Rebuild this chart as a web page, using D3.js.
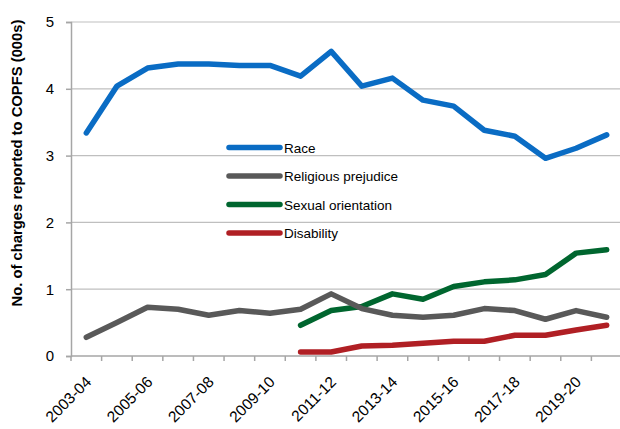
<!DOCTYPE html>
<html>
<head>
<meta charset="utf-8">
<script src="https://cdn.jsdelivr.net/npm/d3@7"></script>
<style>
  body { margin: 0; background: #fff; }
  text { font-family: "Liberation Sans", Arial, sans-serif; fill: #000; }
</style>
</head>
<body>
<div id="chart"></div>
<script>
// financial years on the x axis
var years = ["2003-04", "2004-05", "2005-06", "2006-07", "2007-08", "2008-09",
  "2009-10", "2010-11", "2011-12", "2012-13", "2013-14", "2014-15", "2015-16",
  "2016-17", "2017-18", "2018-19", "2019-20", "2020-21"];

// charges in thousands, null where not recorded
var race = [3.34, 4.04, 4.31, 4.37, 4.37, 4.35, 4.35, 4.19, 4.56, 4.04, 4.16,
  3.83, 3.74, 3.38, 3.29, 2.96, 3.11, 3.31];
var religion = [0.28, 0.50, 0.73, 0.70, 0.61, 0.68, 0.64, 0.70, 0.93, 0.71, 0.61,
  0.58, 0.61, 0.71, 0.68, 0.55, 0.68, 0.58];
var sexualOrientation = [null, null, null, null, null, null, null, 0.46, 0.68, 0.74,
  0.93, 0.85, 1.04, 1.11, 1.14, 1.22, 1.54, 1.59];
var disability = [null, null, null, null, null, null, null, 0.06, 0.06, 0.15,
  0.16, 0.19, 0.22, 0.22, 0.31, 0.31, 0.39, 0.46];

var yTicks = [0, 1, 2, 3, 4, 5];

var series = [
  {name: "Race", values: race, color: "#0a6cc4"},
  {name: "Religious prejudice", values: religion, color: "#595959"},
  {name: "Sexual orientation", values: sexualOrientation, color: "#00662f"},
  {name: "Disability", values: disability, color: "#b01f24"}
];

var width = 620, height = 429;
var margin = {top: 22, right: -2, bottom: 73, left: 71};

var svg = d3.select("#chart").append("svg")
  .attr("width", width)
  .attr("height", height);

var x = d3.scaleBand()
  .domain(years)
  .range([margin.left, width - margin.right]);

var y = d3.scaleLinear()
  .domain([0, 5])
  .range([height - margin.bottom, margin.top]);

// horizontal gridlines
svg.append("g")
  .selectAll("line")
  .data(yTicks.filter(function(d) { return d > 0; }))
  .enter()
  .append("line")
    .attr("x1", margin.left)
    .attr("x2", width - margin.right)
    .attr("y1", function(d) { return y(d); })
    .attr("y2", function(d) { return y(d); })
    .attr("stroke", "#bfbfbf")
    .attr("stroke-width", 1.2);

// y axis
var yAxis = d3.axisLeft(y).tickValues(yTicks).tickFormat(d3.format("d"))
  .tickSize(5).tickPadding(12);
var gy = svg.append("g")
  .attr("transform", "translate(" + margin.left + ",0)")
  .call(yAxis);
gy.selectAll("path, line").attr("stroke", "#a6a6a6").attr("stroke-width", 1.5);
gy.selectAll("text").attr("font-size", 15).style("font-family", "Liberation Sans, Arial, sans-serif");

// x axis - ticks sit on the category boundaries
var gx = svg.append("g");
gx.append("line")
  .attr("x1", margin.left).attr("x2", width - margin.right)
  .attr("y1", y(0)).attr("y2", y(0))
  .attr("stroke", "#a6a6a6").attr("stroke-width", 1.5);
gx.selectAll(".tick")
  .data(years)
  .enter()
  .append("line")
    .attr("x1", function(d) { return x(d); })
    .attr("x2", function(d) { return x(d); })
    .attr("y1", y(0))
    .attr("y2", y(0) + 5)
    .attr("stroke", "#a6a6a6").attr("stroke-width", 1.5);
gx.selectAll("text")
  .data(years.filter(function(d, i) { return i % 2 === 0; }))
  .enter()
  .append("text")
    .attr("text-anchor", "end")
    .attr("font-size", 15.5)
    .attr("transform", function(d) {
      return "translate(" + (x(d) + x.bandwidth() / 2 + 6) + "," + (y(0) + 27) + ") rotate(-45)";
    })
    .text(function(d) { return d; });

// y axis title
svg.append("text")
  .attr("transform", "translate(22,163) rotate(-90)")
  .attr("text-anchor", "middle")
  .attr("font-size", 14.8)
  .attr("font-weight", "bold")
  .text("No. of charges reported to COPFS (000s)");

// lines
var line = d3.line()
  .defined(function(d) { return d.v !== null; })
  .x(function(d) { return x(d.year) + x.bandwidth() / 2; })
  .y(function(d) { return y(d.v); });

svg.append("g")
  .selectAll("path")
  .data(series.slice().reverse())
  .enter()
  .append("path")
    .attr("fill", "none")
    .attr("stroke", function(d) { return d.color; })
    .attr("stroke-width", 5.5)
    .attr("stroke-linejoin", "round")
    .attr("stroke-linecap", "round")
    .attr("d", function(d) {
      return line(d.values.map(function(v, i) { return {year: years[i], v: v}; }));
    });

// legend
var legend = svg.append("g")
  .selectAll("g")
  .data(series)
  .enter()
  .append("g")
    .attr("transform", function(d, i) { return "translate(229," + (147.5 + i * 28.5) + ")"; });

legend.append("line")
  .attr("x1", 0).attr("x2", 51)
  .attr("stroke", function(d) { return d.color; })
  .attr("stroke-width", 5.5)
  .attr("stroke-linecap", "round");

legend.append("text")
  .attr("x", 55)
  .attr("dy", "0.38em")
  .attr("font-size", 13.5)
  .text(function(d) { return d.name; });
</script>
</body>
</html>
